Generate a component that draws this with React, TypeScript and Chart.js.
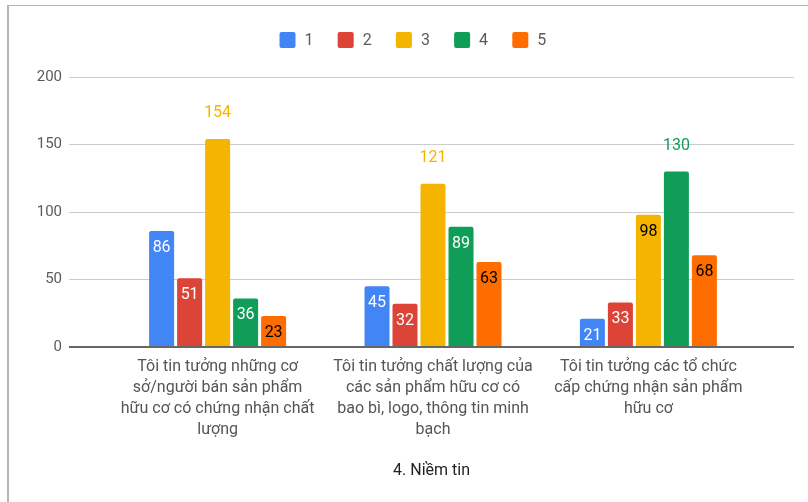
import { useEffect, useRef } from 'react';
import { Chart, registerables } from 'chart.js';

Chart.register(...registerables);

// ---- Data ----
const categories: string[][] = [
  ['Tôi tin tưởng những cơ', 'sở/người bán sản phẩm', 'hữu cơ có chứng nhận chất', 'lượng'],
  ['Tôi tin tưởng chất lượng của', 'các sản phẩm hữu cơ có', 'bao bì, logo, thông tin minh', 'bạch'],
  ['Tôi tin tưởng các tổ chức', 'cấp chứng nhận sản phẩm', 'hữu cơ'],
];
const seriesLabels = ['1', '2', '3', '4', '5'];
const series1 = [86, 45, 21];
const series2 = [51, 32, 33];
const series3 = [154, 121, 98];
const series4 = [36, 89, 130];
const series5 = [23, 63, 68];
const yTickValues = [0, 50, 100, 150, 200];
const axisTitle = '4. Niềm tin';

// ---- Styles ----
const seriesColors = ['#4285F4', '#DB4437', '#F4B400', '#0F9D58', '#FF6D01'];
const insideLabelColors = ['#ffffff', '#ffffff', '#000000', '#ffffff', '#000000'];
const FONT = 'Roboto';

const allSeries = [series1, series2, series3, series4, series5];

const valueLabelPlugin = {
  id: 'valueLabels',
  afterDatasetsDraw(chart: any) {
    const ctx = chart.ctx;
    const datasets = chart.data.datasets;
    const n = datasets[0].data.length;
    ctx.save();
    ctx.font = `16px ${FONT}`;
    ctx.textAlign = 'center';
    ctx.textBaseline = 'middle';
    for (let i = 0; i < n; i++) {
      let maxD = 0;
      datasets.forEach((ds: any, d: number) => {
        if (ds.data[i].y > datasets[maxD].data[i].y) maxD = d;
      });
      datasets.forEach((ds: any, d: number) => {
        const el = chart.getDatasetMeta(d).data[i];
        const v = ds.data[i].y;
        if (d === maxD) {
          ctx.fillStyle = seriesColors[d];
          ctx.fillText(String(v), el.x, el.y - 26);
        } else {
          ctx.fillStyle = insideLabelColors[d];
          ctx.fillText(String(v), el.x, el.y + 17);
        }
      });
    }
    ctx.restore();
  },
};

const legendPlugin = {
  id: 'customLegend',
  afterDraw(chart: any) {
    const ctx = chart.ctx;
    const datasets = chart.data.datasets;
    const startX = 279.5;
    const pitch = 58.2;
    const centerY = 40;
    const box = 16;
    ctx.save();
    ctx.font = `16px ${FONT}`;
    ctx.textAlign = 'left';
    ctx.textBaseline = 'middle';
    datasets.forEach((ds: any, d: number) => {
      const x = startX + d * pitch;
      ctx.fillStyle = ds.backgroundColor;
      ctx.beginPath();
      (ctx as any).roundRect(x, centerY - box / 2, box, box, 2);
      ctx.fill();
      ctx.fillStyle = '#5b5b5b';
      ctx.fillText(ds.label, x + 25, centerY + 1);
    });
    ctx.restore();
  },
};

export default function App() {
  const canvasRef = useRef<HTMLCanvasElement | null>(null);

  useEffect(() => {
    if (!canvasRef.current) return;
    const chart = new Chart(canvasRef.current, {
      type: 'bar',
      data: {
        datasets: allSeries.map((s, d) => ({
          label: seriesLabels[d],
          data: s.map((v, i) => ({ x: i, y: v })),
          backgroundColor: seriesColors[d],
          borderRadius: 2,
          categoryPercentage: 0.65,
          barPercentage: 0.893,
        })),
      },
      options: {
        animation: false,
        responsive: false,
        devicePixelRatio: 1,
        layout: { padding: { top: 77, right: 14, left: 0, bottom: 0 } },
        plugins: {
          legend: { display: false },
          tooltip: { enabled: false },
        },
        scales: {
          x: {
            type: 'linear',
            min: -0.69,
            max: 2.676,
            offset: false,
            afterBuildTicks: (s: any) => {
              s.ticks = categories.map((_, i) => ({ value: i }));
            },
            afterFit: (s: any) => {
              s.height = 155;
            },
            grid: { display: false, drawTicks: false },
            border: { display: false },
            ticks: {
              autoSkip: false,
              maxRotation: 0,
              minRotation: 0,
              padding: 9,
              color: '#555555',
              font: { family: FONT, size: 16, lineHeight: 1.3125 },
              callback: (v: any) => categories[v] ?? '',
            },
            title: {
              display: true,
              text: axisTitle,
              color: '#222222',
              font: { family: FONT, size: 16, lineHeight: 1.2 },
              padding: { top: 21, bottom: 21 },
            },
          },
          y: {
            min: 0,
            max: 200,
            afterBuildTicks: (s: any) => {
              s.ticks = yTickValues.map((v) => ({ value: v }));
            },
            afterFit: (s: any) => {
              s.width = 69;
            },
            grid: {
              drawTicks: false,
              color: (c: any) => (c.tick && c.tick.value === 0 ? '#666666' : '#cccccc'),
              lineWidth: (c: any) => (c.tick && c.tick.value === 0 ? 2 : 1),
            },
            border: { display: false },
            ticks: {
              padding: 7,
              color: '#5b5b5b',
              font: { family: FONT, size: 15 },
            },
          },
        },
      },
      plugins: [valueLabelPlugin, legendPlugin],
    } as any);
    return () => chart.destroy();
  }, []);

  return (
    <div style={{ position: 'fixed', left: 0, top: 0, width: 808, height: 502, background: '#ffffff' }}>
      <canvas ref={canvasRef} width={808} height={502} style={{ position: 'absolute', left: 0, top: 0 }} />
      <div
        style={{
          position: 'absolute',
          left: 7,
          top: 5,
          right: 0,
          bottom: 0,
          borderTop: '1px solid #b5b5b5',
          borderLeft: '2px solid #b5b5b5',
          pointerEvents: 'none',
        }}
      />
    </div>
  );
}
